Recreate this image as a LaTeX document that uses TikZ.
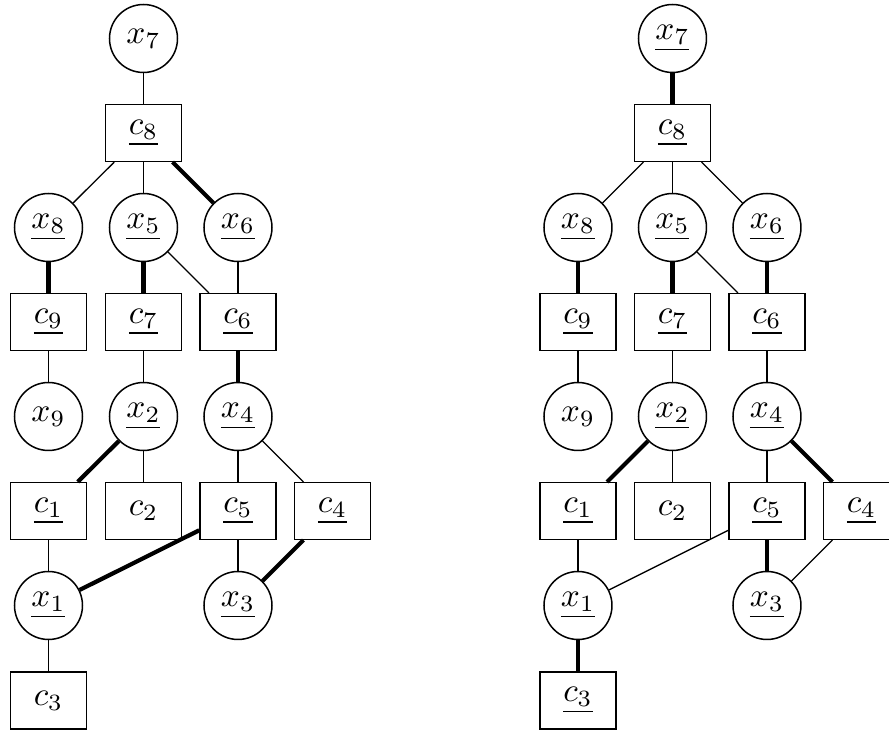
\documentclass[tikz,border=0pt]{standalone}
\begin{document}
\begin{tikzpicture}[x=0.3pt,y=-0.3pt,
  var/.style={draw,circle,line width=0.45pt,minimum size=20.4pt,inner sep=0pt},
  fac/.style={draw,rectangle,line width=0.45pt,minimum width=22.8pt,minimum height=17pt,inner sep=0pt},
  thin/.style={line width=0.4pt},
  thick edge/.style={line width=1.25pt}]
\useasboundingbox (0,0) rectangle (889,731);
% ---------- left tree ----------
\node[var] (Lx7) at (143.5,38.5) {$x_7$};
\node[fac] (Lc8) at (143.5,133) {$\underline{c_8}$};
\node[var] (Lx8) at (48.5,227.5) {$\underline{x_8}$};
\node[var] (Lx5) at (143.5,227.5) {$\underline{x_5}$};
\node[var] (Lx6) at (238,227.5) {$\underline{x_6}$};
\node[fac] (Lc9) at (48.5,322) {$\underline{c_9}$};
\node[fac] (Lc7) at (143.5,322) {$\underline{c_7}$};
\node[fac] (Lc6) at (238,322) {$\underline{c_6}$};
\node[var] (Lx9) at (48.5,416.5) {$x_9$};
\node[var] (Lx2) at (143.5,416.5) {$\underline{x_2}$};
\node[var] (Lx4) at (238,416.5) {$\underline{x_4}$};
\node[fac] (Lc1) at (48.5,511) {$\underline{c_1}$};
\node[fac] (Lc2) at (143.5,511) {$c_2$};
\node[fac] (Lc5) at (238,511) {$\underline{c_5}$};
\node[fac] (Lc4) at (332.5,511) {$\underline{c_4}$};
\node[var] (Lx1) at (48.5,605.5) {$\underline{x_1}$};
\node[var] (Lx3) at (238,605.5) {$\underline{x_3}$};
\node[fac] (Lc3) at (48.5,700.5) {$c_3$};
\draw[thin] (Lx7) -- (Lc8);
\draw[thin] (Lc8) -- (Lx8);
\draw[thin] (Lc8) -- (Lx5);
\draw[thick edge] (Lc8) -- (Lx6);
\draw[thick edge] (Lx8) -- (Lc9);
\draw[thick edge] (Lx5) -- (Lc7);
\draw[thin] (Lx5) -- (Lc6);
\draw[thin] (Lx6) -- (Lc6);
\draw[thin] (Lc9) -- (Lx9);
\draw[thin] (Lc7) -- (Lx2);
\draw[thick edge] (Lc6) -- (Lx4);
\draw[thick edge] (Lx2) -- (Lc1);
\draw[thin] (Lx2) -- (Lc2);
\draw[thin] (Lx4) -- (Lc5);
\draw[thin] (Lx4) -- (Lc4);
\draw[thin] (Lc1) -- (Lx1);
\draw[thick edge] (Lc5) -- (Lx1);
\draw[thin] (Lc5) -- (Lx3);
\draw[thick edge] (Lc4) -- (Lx3);
\draw[thin] (Lx1) -- (Lc3);
% ---------- right tree ----------
\node[var] (Rx7) at (672.5,38.5) {$\underline{x_7}$};
\node[fac] (Rc8) at (672.5,133) {$\underline{c_8}$};
\node[var] (Rx8) at (578,227.5) {$\underline{x_8}$};
\node[var] (Rx5) at (672.5,227.5) {$\underline{x_5}$};
\node[var] (Rx6) at (767,227.5) {$\underline{x_6}$};
\node[fac] (Rc9) at (578,322) {$\underline{c_9}$};
\node[fac] (Rc7) at (672.5,322) {$\underline{c_7}$};
\node[fac] (Rc6) at (767,322) {$\underline{c_6}$};
\node[var] (Rx9) at (578,416.5) {$x_9$};
\node[var] (Rx2) at (672.5,416.5) {$\underline{x_2}$};
\node[var] (Rx4) at (767,416.5) {$\underline{x_4}$};
\node[fac] (Rc1) at (578,511) {$\underline{c_1}$};
\node[fac] (Rc2) at (672.5,511) {$c_2$};
\node[fac] (Rc5) at (767,511) {$\underline{c_5}$};
\node[fac] (Rc4) at (861.5,511) {$\underline{c_4}$};
\node[var] (Rx1) at (578,605.5) {$\underline{x_1}$};
\node[var] (Rx3) at (767,605.5) {$\underline{x_3}$};
\node[fac] (Rc3) at (578,700.5) {$\underline{c_3}$};
\draw[thick edge] (Rx7) -- (Rc8);
\draw[thin] (Rc8) -- (Rx8);
\draw[thin] (Rc8) -- (Rx5);
\draw[thin] (Rc8) -- (Rx6);
\draw[thick edge] (Rx8) -- (Rc9);
\draw[thick edge] (Rx5) -- (Rc7);
\draw[thin] (Rx5) -- (Rc6);
\draw[thick edge] (Rx6) -- (Rc6);
\draw[thin] (Rc9) -- (Rx9);
\draw[thin] (Rc7) -- (Rx2);
\draw[thin] (Rc6) -- (Rx4);
\draw[thick edge] (Rx2) -- (Rc1);
\draw[thin] (Rx2) -- (Rc2);
\draw[thin] (Rx4) -- (Rc5);
\draw[thick edge] (Rx4) -- (Rc4);
\draw[thin] (Rc1) -- (Rx1);
\draw[thin] (Rc5) -- (Rx1);
\draw[thick edge] (Rc5) -- (Rx3);
\draw[thin] (Rc4) -- (Rx3);
\draw[thick edge] (Rx1) -- (Rc3);
\end{tikzpicture}
\end{document}
